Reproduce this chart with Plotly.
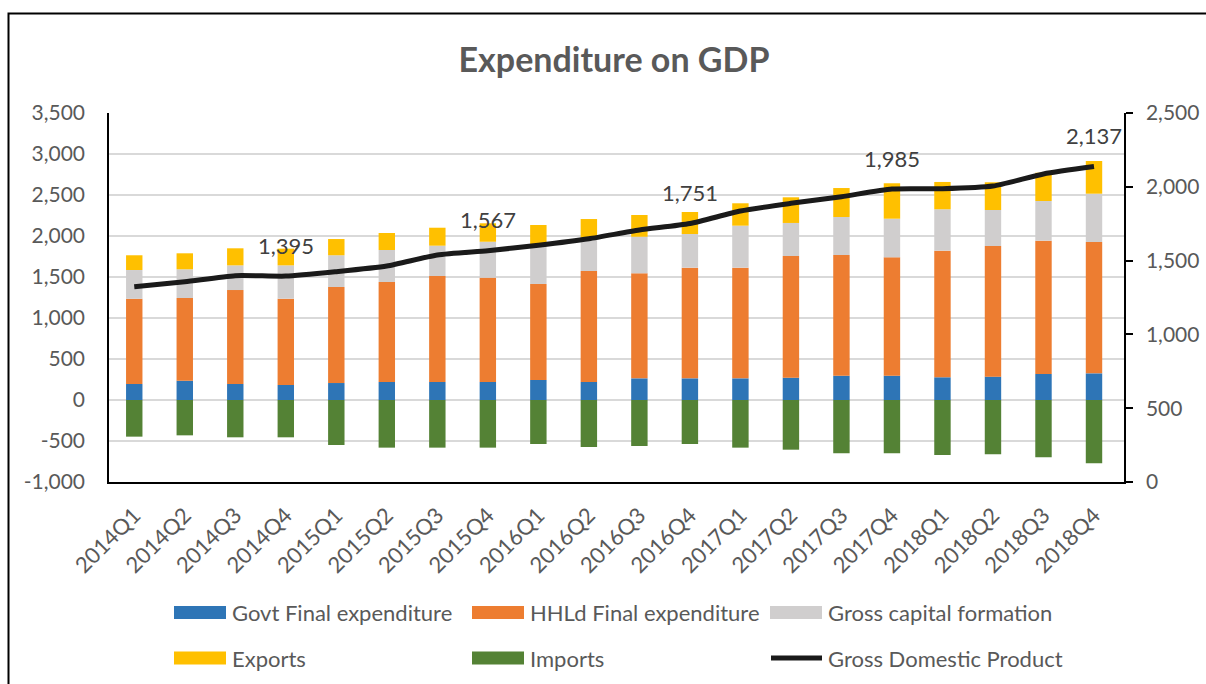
import plotly.graph_objects as go

quarters = ["2014Q1", "2014Q2", "2014Q3", "2014Q4", "2015Q1", "2015Q2", "2015Q3", "2015Q4",
            "2016Q1", "2016Q2", "2016Q3", "2016Q4", "2017Q1", "2017Q2", "2017Q3", "2017Q4",
            "2018Q1", "2018Q2", "2018Q3", "2018Q4"]
govt = [195, 235, 195, 183, 207, 220, 220, 220, 244, 220, 264, 264, 264, 272, 296, 296, 277, 285, 317, 325]
hhld = [1040, 1009, 1146, 1053, 1171, 1219, 1292, 1272, 1171, 1353, 1281, 1350, 1350, 1484, 1472, 1444, 1544, 1593, 1626, 1602]
gcf = [350, 350, 301, 406, 387, 390, 370, 438, 463, 406, 446, 410, 512, 403, 464, 471, 505, 439, 484, 589]
exports = [180, 195, 208, 204, 198, 208, 219, 225, 256, 228, 265, 269, 273, 313, 353, 432, 333, 338, 345, 399]
imports = [-447, -431, -455, -455, -549, -581, -581, -581, -537, -573, -561, -537, -581, -606, -650, -650, -671, -663, -699, -772]
gdp = [1323, 1357, 1398, 1395, 1425, 1463, 1538, 1567, 1604, 1648, 1707, 1751, 1836, 1888, 1933, 1985, 1987, 2005, 2087, 2137]
gdp_label_idx = [3, 7, 11, 15, 19]

left_tickvals = [-1000, -500, 0, 500, 1000, 1500, 2000, 2500, 3000, 3500]
left_ticktext = ["-1,000", "-500", "0", "500", "1,000", "1,500", "2,000", "2,500", "3,000", "3,500"]

names = ["Govt Final expenditure", "HHLd Final expenditure", "Gross capital formation",
         "Exports", "Imports", "Gross Domestic Product"]
colors = ["#2E75B6", "#ED7D31", "#D0CECE", "#FFC000", "#548235", "#1A1A1A"]

W, H = 1206, 684
# plot area in page pixels
L, R, T, B = 109, 1124, 113, 482
FONT = "Lato"
GRAY = "#595959"


def px(x):
    """page x pixel -> paper coordinate"""
    return (x - L) / (R - L)


def py(y):
    """page y pixel -> paper coordinate"""
    return (B - y) / (B - T)


fig = go.Figure()
for vals, name, col in zip([govt, hhld, gcf, exports, imports], names[:5], colors[:5]):
    fig.add_trace(go.Bar(x=quarters, y=vals, name=name, marker=dict(color=col, line=dict(width=0)),
                         showlegend=False))

fig.add_trace(go.Scatter(x=quarters, y=gdp, name=names[5], mode="lines", yaxis="y2",
                         line=dict(color=colors[5], width=5, shape="spline", smoothing=0.6),
                         showlegend=False))

annotations = []
for i in gdp_label_idx:
    annotations.append(dict(x=quarters[i], y=gdp[i], xref="x", yref="y2", text=f"{gdp[i]:,}",
                            showarrow=False, yshift=31, font=dict(family=FONT, size=22, color="#404040")))

shapes = []
# outer chart border
shapes.append(dict(type="rect", xref="paper", yref="paper", x0=px(8.5), x1=px(1215), y0=py(695), y1=py(13.5),
                   line=dict(color="#000000", width=2), fillcolor="rgba(0,0,0,0)", layer="below"))

# manual legend
legend_cols = [174, 472, 770]
legend_rows = [612.5, 658]
for k, (name, col) in enumerate(zip(names, colors)):
    cx = legend_cols[k % 3]
    cy = legend_rows[k // 3]
    if k == 5:
        shapes.append(dict(type="line", xref="paper", yref="paper", x0=px(cx + 1), x1=px(cx + 52),
                           y0=py(cy), y1=py(cy), line=dict(color=col, width=5)))
    else:
        shapes.append(dict(type="rect", xref="paper", yref="paper", x0=px(cx), x1=px(cx + 52),
                           y0=py(cy + 6.5), y1=py(cy - 6.5), line=dict(width=0), fillcolor=col))
    annotations.append(dict(x=px(cx + 56), y=py(cy), xref="paper", yref="paper", text=name,
                            showarrow=False, xanchor="left", yanchor="middle",
                            font=dict(family=FONT, size=22, color=GRAY)))

fig.update_layout(
    width=W, height=H, autosize=False,
    margin=dict(l=L, r=W - R, t=T, b=H - B, pad=0),
    paper_bgcolor="white", plot_bgcolor="white",
    barmode="relative", bargap=0.675,
    font=dict(family=FONT, color=GRAY),
    title=dict(text="<b>Expenditure on GDP</b>", x=px(614), xref="paper", xanchor="center",
               y=1 - 60 / H, yanchor="middle", font=dict(family=FONT, size=34, color=GRAY)),
    xaxis=dict(type="category", tickangle=-45, showgrid=False, showline=True, linecolor="#000000",
               linewidth=1.5, ticks="", ticklabelstandoff=10, automargin=False,
               tickfont=dict(family=FONT, size=22, color=GRAY)),
    yaxis=dict(range=[-1000, 3500], tickmode="array", tickvals=left_tickvals, ticktext=left_ticktext,
               showgrid=True, gridcolor="#D9D9D9",
               gridwidth=1.5, zeroline=False, showline=True, linecolor="#000000", linewidth=1.5, ticks="",
               ticklabelstandoff=18, automargin=False, tickfont=dict(family=FONT, size=21, color=GRAY)),
    yaxis2=dict(range=[0, 2500], dtick=500, tick0=0, tickformat=",", overlaying="y", side="right",
                showgrid=False, zeroline=False, showline=True, linecolor="#000000", linewidth=1.5,
                ticks="outside", ticklen=7, tickwidth=1.5, tickcolor="#000000", ticklabelstandoff=9,
                automargin=False, tickfont=dict(family=FONT, size=21, color=GRAY)),
    annotations=annotations,
    shapes=shapes,
)

fig.write_html(
    "out.html",
    config={"displayModeBar": False},
    post_script="document.body.style.margin='0';document.body.style.overflow='hidden';"
                "document.documentElement.style.overflow='hidden';",
)
